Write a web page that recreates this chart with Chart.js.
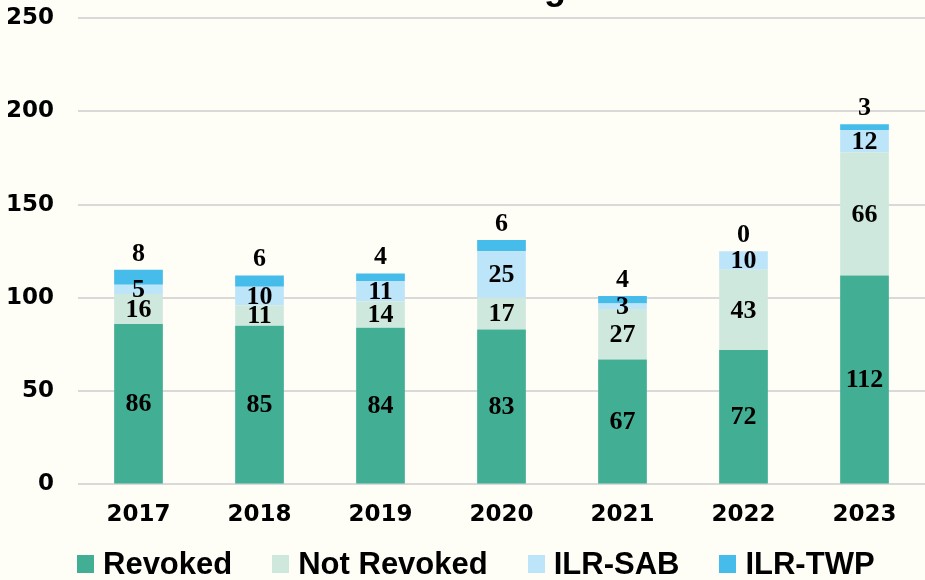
<!DOCTYPE html>
<html>
<head>
<meta charset="utf-8">
<script src="https://cdn.jsdelivr.net/npm/chart.js@4"></script>
<style>
  html, body { margin: 0; padding: 0; background: #fefef6; }
  #wrap { position: relative; width: 925px; height: 580px; overflow: hidden; }
  #legend {
    position: absolute; left: 77px; top: 546px; height: 36px;
    display: flex; align-items: center;
    font: bold 31px "Liberation Sans", Arial, sans-serif; color: #000;
  }
  #legend .item { display: flex; align-items: center; margin-right: 40px; }
  #legend .box { width: 17px; height: 18px; margin-right: 9px; }
</style>
</head>
<body>
<div id="wrap">
  <canvas id="outcomesChart" width="925" height="580"></canvas>
  <div id="legend"></div>
</div>
<script>
// data
const years = ['2017', '2018', '2019', '2020', '2021', '2022', '2023'];
const revoked = [86, 85, 84, 83, 67, 72, 112];
const notRevoked = [16, 11, 14, 17, 27, 43, 66];
const ilrSab = [5, 10, 11, 25, 3, 10, 12];
const ilrTwp = [8, 6, 4, 6, 4, 0, 3];
const yTicks = [0, 50, 100, 150, 200, 250];

const seriesNames = ['Revoked', 'Not Revoked', 'ILR-SAB', 'ILR-TWP'];
const seriesColors = ['#42ae94', '#cfe8de', '#bde5f9', '#45bcea'];
const seriesData = [revoked, notRevoked, ilrSab, ilrTwp];

// title sits mostly above the canvas, only its bottom edge shows
const titlePlugin = {
  id: 'cutTitle',
  afterDraw(chart) {
    const ctx = chart.ctx;
    ctx.save();
    ctx.font = 'bold 36px "Liberation Sans", Arial, sans-serif';
    ctx.fillStyle = '#000';
    ctx.textAlign = 'center';
    ctx.textBaseline = 'alphabetic';
    ctx.fillText('Revocation Hearing Outcomes', 490, -1);
    ctx.restore();
  }
};

// value labels: centred in each segment, the top series above the bar
const valueLabels = {
  id: 'valueLabels',
  afterDatasetsDraw(chart) {
    const ctx = chart.ctx;
    const last = chart.data.datasets.length - 1;
    ctx.save();
    ctx.font = 'bold 26px "Liberation Serif", "Times New Roman", serif';
    ctx.fillStyle = '#000';
    ctx.textAlign = 'center';
    ctx.textBaseline = 'middle';
    chart.data.datasets.forEach((ds, i) => {
      const meta = chart.getDatasetMeta(i);
      meta.data.forEach((bar, j) => {
        const v = ds.data[j];
        let y;
        if (i === last) {
          y = bar.y - 16;
        } else {
          y = (bar.y + bar.base) / 2 + 1;
        }
        ctx.fillText(String(v), bar.x, y);
      });
    });
    ctx.restore();
  }
};

const tickFont = { family: '"DejaVu Sans", sans-serif', size: 23, weight: 'bold' };

const ctx = document.getElementById('outcomesChart').getContext('2d');
new Chart(ctx, {
  type: 'bar',
  data: {
    labels: years,
    datasets: seriesData.map((d, i) => ({
      label: seriesNames[i],
      data: d,
      backgroundColor: seriesColors[i],
      borderWidth: 0,
      barPercentage: 0.5,
      categoryPercentage: 0.805
    }))
  },
  options: {
    responsive: false,
    animation: false,
    layout: { padding: { top: 18, right: -10, bottom: 34, left: 8 } },
    plugins: {
      legend: { display: false },
      tooltip: { enabled: false }
    },
    scales: {
      x: {
        stacked: true,
        grid: { display: false, drawTicks: false },
        border: { display: false },
        ticks: { padding: 17, color: '#000', font: tickFont }
      },
      y: {
        stacked: true,
        min: 0,
        max: 250,
        afterBuildTicks(scale) {
          scale.ticks = yTicks.map(v => ({ value: v }));
        },
        afterFit(scale) {
          // fixed axis width; label padding shouldn't push the plot down
          scale.width = 70;
          scale.paddingTop = 0;
        },
        grid: { color: '#d9d9d9', lineWidth: 2, drawTicks: false },
        border: { display: false },
        ticks: { padding: 24, color: '#000', font: tickFont }
      }
    }
  },
  plugins: [titlePlugin, valueLabels]
});

// legend row
const legend = document.getElementById('legend');
seriesNames.forEach((name, i) => {
  const item = document.createElement('div');
  item.className = 'item';
  const box = document.createElement('span');
  box.className = 'box';
  box.style.background = seriesColors[i];
  const txt = document.createElement('span');
  txt.textContent = name;
  item.appendChild(box);
  item.appendChild(txt);
  legend.appendChild(item);
});
</script>
</body>
</html>
